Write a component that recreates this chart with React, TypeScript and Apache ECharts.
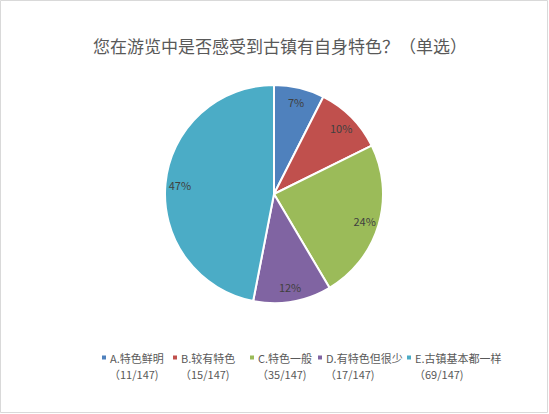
import React, { useEffect, useRef } from "react";
import * as echarts from "echarts";

const titleText = "您在游览中是否感受到古镇有自身特色？（单选）";
const categories = ["A.特色鲜明", "B.较有特色", "C.特色一般", "D.有特色但很少", "E.古镇基本都一样"];
const counts = [11, 15, 35, 17, 69];
const totalLabel = 147;
const colors = ["#4F81BD", "#C0504D", "#9BBB59", "#8064A2", "#4BACC6"];
const legendLefts = [100, 171, 248, 316, 405];

export default function App() {
  const ref = useRef<HTMLDivElement>(null);
  useEffect(() => {
    if (!ref.current) return;
    const chart = echarts.init(ref.current, undefined, { renderer: "svg" });
    const total = counts.reduce((a, b) => a + b, 0);
    const data = categories.map((name, i) => ({ name, value: counts[i], itemStyle: { color: colors[i] } }));
    const font = "'Noto Sans CJK SC', 'Noto Sans', sans-serif";
    const legends = categories.map((name, i) => ({
      data: [name],
      left: legendLefts[i],
      top: 352,
      padding: 0,
      itemWidth: 6,
      itemHeight: 6,
      itemGap: 0,
      icon: "rect",
      selectedMode: false,
      textStyle: { color: "#595959", fontSize: 11, fontFamily: font, padding: [0, 0, 0, -2] },
    }));
    const graphics: any[] = [
      {
        type: "rect",
        shape: { x: 0.5, y: 0.5, width: 547, height: 412 },
        style: { fill: "none", stroke: "#D9D9D9", lineWidth: 1 },
        silent: true,
      },
      ...categories.map((_, i) => ({
        type: "text",
        left: legendLefts[i] + 9,
        top: 368,
        style: {
          text: "（" + counts[i] + "/" + totalLabel + ")",
          fill: "#595959",
          font: "11px " + font,
        },
        silent: true,
      })),
    ];
    chart.setOption({
      animation: false,
      backgroundColor: "#ffffff",
      title: {
        text: titleText,
        left: 88,
        top: 32,
        textStyle: { color: "#595959", fontSize: 17, fontWeight: "normal", fontFamily: font },
      },
      legend: legends,
      graphic: graphics,
      series: [
        {
          type: "pie",
          center: [274, 194],
          radius: [0, 109],
          startAngle: 90,
          clockwise: true,
          data,
          label: { show: false },
          labelLine: { show: false },
          itemStyle: { borderColor: "#ffffff", borderWidth: 2 },
          emphasis: { disabled: true },
        },
        {
          type: "pie",
          center: [274, 194],
          radius: [74, 109],
          startAngle: 90,
          clockwise: true,
          silent: true,
          legendHoverLink: false,
          data: categories.map((name, i) => ({ name, value: counts[i], itemStyle: { color: "rgba(0,0,0,0)" } })),
          itemStyle: { borderWidth: 0 },
          label: {
            show: true,
            position: "inside",
            color: "#404040",
            fontSize: 11,
            fontFamily: font,
            formatter: (p: any) => Math.round((p.value / total) * 100) + "%",
          },
          labelLine: { show: false },
          emphasis: { disabled: true },
        },
      ],
    });
    return () => chart.dispose();
  }, []);
  return (
    <div
      ref={ref}
      style={{ position: "absolute", left: 0, top: 0, width: 549, height: 414 }}
    />
  );
}
